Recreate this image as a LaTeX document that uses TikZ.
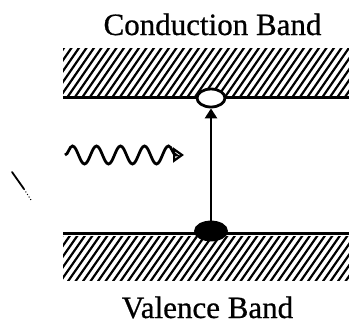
\documentclass[tikz,border=0pt]{standalone}
\usepackage{fontspec}
\setmainfont{Liberation Serif}
\newfontfamily\labfont{Liberation Serif}[FakeBold=0.7]
\usetikzlibrary{arrows.meta,decorations.pathmorphing,shapes.geometric}
\begin{document}
\begin{tikzpicture}[x=1pt,y=-1pt,
  label text/.style={font=\labfont\fontsize{31}{31}\selectfont, anchor=base, inner sep=0pt},
  hatchline/.style={line width=2.2pt},
  bandedge/.style={line width=2.8pt},
  carrier/.style={ellipse, draw, line width=2.8pt, inner sep=0pt},
  photon/.style={line width=2.8pt, decorate,
     decoration={snake, segment length=24pt, amplitude=9pt, post length=5pt},
     -{Triangle[open, length=11pt, width=15pt, line width=2.2pt]}}
  ]
\useasboundingbox (0,0) rectangle (349,324);
% labels
\node[label text] (cb) at (212.5,35) {Conduction Band};
\node[label text] (vb) at (207.5,318) {Valence Band};
% conduction band hatching
\begin{scope}
  \clip (63,48) rectangle (349,95);
  \foreach \i in {-60,-52.5,...,349} \draw[hatchline] (\i,97) -- ++(36,-52);
\end{scope}
\draw[bandedge] (63,97.5) -- (349,97.5);
% valence band hatching
\begin{scope}
  \clip (63,236) rectangle (349,280);
  \foreach \i in {-60,-52.5,...,349} \draw[hatchline] (\i,282) -- ++(35,-50);
\end{scope}
\draw[bandedge] (63,233.5) -- (349,233.5);
% carriers
\node[carrier, fill=white, minimum width=28pt, minimum height=18pt] (hole) at (211,98) {};
\node[carrier, fill=black, minimum width=31pt, minimum height=18pt] (electron) at (211,231) {};
% transition arrow
\draw[line width=2.6pt, -{Triangle[length=10pt, width=12pt]}] (electron.north) -- (hole.south);
% photon
\coordinate (ps) at (65,155);
\coordinate (pe) at (184,155);
\draw[photon] (ps) -- (pe);
% stray mark
\coordinate (m1) at (12,172);
\coordinate (m2) at (24,189);
\coordinate (m3) at (31,200);
\draw[line width=1.8pt, line cap=round] (m1) -- (m2);
\draw[line width=1pt, dotted] (m2) -- (m3);
\end{tikzpicture}
\end{document}
